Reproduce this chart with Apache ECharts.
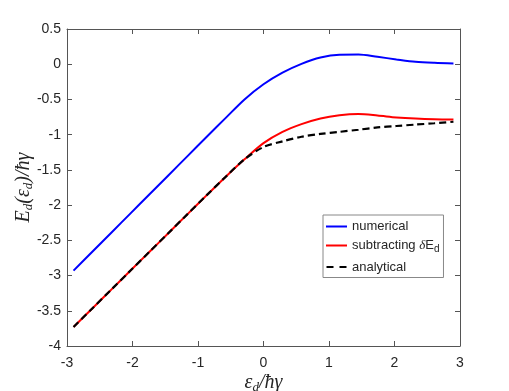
<!DOCTYPE html>
<html>
<head>
<meta charset="utf-8">
<script src="https://cdn.jsdelivr.net/npm/echarts@6/dist/echarts.min.js"></script>
<style>
  html, body { margin: 0; padding: 0; background: #fff; }
  #chart { width: 509px; height: 391px; }
</style>
</head>
<body>
<div id="chart"></div>
<script>
// detuning values eps_d / hbar gamma
const xs = [-2.9, -2.61, -2.32, -2.03, -1.74, -1.45, -1.16, -0.87, -0.58, -0.29, 0, 0.29, 0.58, 0.87, 1.16, 1.45, 1.74, 2.03, 2.32, 2.61, 2.9];
const numerical = [-2.93, -2.659, -2.388, -2.117, -1.846, -1.575, -1.304, -1.033, -0.765, -0.50, -0.285, -0.12, 0.005, 0.095, 0.135, 0.138, 0.105, 0.068, 0.035, 0.02, 0.012];
const subtracting = [-3.73, -3.463, -3.196, -2.929, -2.662, -2.395, -2.128, -1.862, -1.60, -1.35, -1.12, -0.96, -0.85, -0.77, -0.725, -0.708, -0.728, -0.755, -0.772, -0.782, -0.786];
const analytical = [-3.73, -3.463, -3.196, -2.929, -2.662, -2.395, -2.128, -1.862, -1.60, -1.35, -1.175, -1.095, -1.03, -0.99, -0.96, -0.93, -0.897, -0.877, -0.857, -0.838, -0.817];

const xTicks = { min: -3, max: 3, interval: 1 };
const yTicks = { min: -4, max: 0.5, interval: 0.5 };

const axisColor = '#555';
const labelColor = '#262626';

function pairs(ys) {
  return xs.map((x, i) => [x, ys[i]]);
}

const chart = echarts.init(document.getElementById('chart'));

const tick = { show: true, inside: true, length: 5, lineStyle: { color: axisColor } };
const line = { show: true, onZero: false, lineStyle: { color: axisColor, width: 1 } };
const mathRich = {
  v: { fontFamily: 'Liberation Serif', fontStyle: 'italic', fontSize: 20, color: labelColor },
  s: { fontFamily: 'Liberation Serif', fontStyle: 'italic', fontSize: 13, color: labelColor, verticalAlign: 'bottom', padding: [10, 0, 0, 0] }
};

chart.setOption({
  animation: false,
  backgroundColor: '#fff',
  grid: { left: 67, right: 49, top: 29, bottom: 45, outerBoundsMode: 'none', containLabel: false },
  legend: {
    orient: 'vertical',
    left: 323,
    top: 215,
    padding: [5, 4, 4, 3],
    itemGap: 6,
    itemWidth: 21,
    itemHeight: 2,
    backgroundColor: '#fff',
    borderColor: '#888',
    borderWidth: 1,
    borderRadius: 0,
    data: [
      { name: 'numerical', icon: 'rect' },
      { name: 'subtracting δE_d', icon: 'rect' },
      { name: 'analytical', icon: 'path://M0,0H7V2H0Z M13,0H20V2H13Z' }
    ],
    formatter: (name) => name === 'subtracting δE_d' ? '{t|subtracting }{i|δ}{t|E}{s|d}' : '{t|' + name + '}',
    textStyle: {
      color: labelColor,
      rich: {
        t: { fontFamily: 'Liberation Sans', fontSize: 13, color: labelColor },
        i: { fontFamily: 'Liberation Serif', fontStyle: 'italic', fontSize: 13, color: labelColor },
        s: { fontFamily: 'Liberation Sans', fontSize: 10, color: labelColor, verticalAlign: 'bottom', padding: [8, 0, 0, 0] }
      }
    }
  },
  xAxis: [
    {
      type: 'value',
      ...xTicks,
      position: 'bottom',
      axisLine: line,
      axisTick: tick,
      splitLine: { show: false },
      axisLabel: { color: labelColor, fontFamily: 'Liberation Sans', fontSize: 14, margin: 10 },
      name: '{v|ε}{s|d}{v|/ħγ}',
      nameLocation: 'middle',
      nameMoveOverlap: false,
      nameGap: 25,
      nameTextStyle: { rich: mathRich }
    },
    {
      type: 'value',
      ...xTicks,
      position: 'top',
      axisLine: line,
      axisTick: tick,
      splitLine: { show: false },
      axisLabel: { show: false }
    }
  ],
  yAxis: [
    {
      type: 'value',
      ...yTicks,
      position: 'left',
      axisLine: line,
      axisTick: tick,
      splitLine: { show: false },
      axisLabel: { color: labelColor, fontFamily: 'Liberation Sans', fontSize: 14, margin: 6 },
      name: '{v|E}{s|d}{v|(ε}{s|d}{v|)/ħγ}',
      nameLocation: 'middle',
      nameMoveOverlap: false,
      nameRotate: 90,
      nameGap: 32,
      nameTextStyle: { rich: mathRich }
    },
    {
      type: 'value',
      ...yTicks,
      position: 'right',
      axisLine: line,
      axisTick: tick,
      splitLine: { show: false },
      axisLabel: { show: false }
    }
  ],
  series: [
    {
      name: 'numerical',
      type: 'line',
      data: pairs(numerical),
      smooth: 0.3,
      showSymbol: false,
      symbol: 'none',
      lineStyle: { color: '#0000ff', width: 2 },
      itemStyle: { color: '#0000ff' }
    },
    {
      name: 'subtracting δE_d',
      type: 'line',
      data: pairs(subtracting),
      smooth: 0.3,
      showSymbol: false,
      symbol: 'none',
      lineStyle: { color: '#ff0000', width: 2 },
      itemStyle: { color: '#ff0000' }
    },
    {
      name: 'analytical',
      type: 'line',
      data: pairs(analytical),
      smooth: 0.3,
      showSymbol: false,
      symbol: 'none',
      z: 3,
      lineStyle: { color: '#000', width: 2.2, type: [7, 4] },
      itemStyle: { color: '#000' }
    }
  ]
});
</script>
</body>
</html>
